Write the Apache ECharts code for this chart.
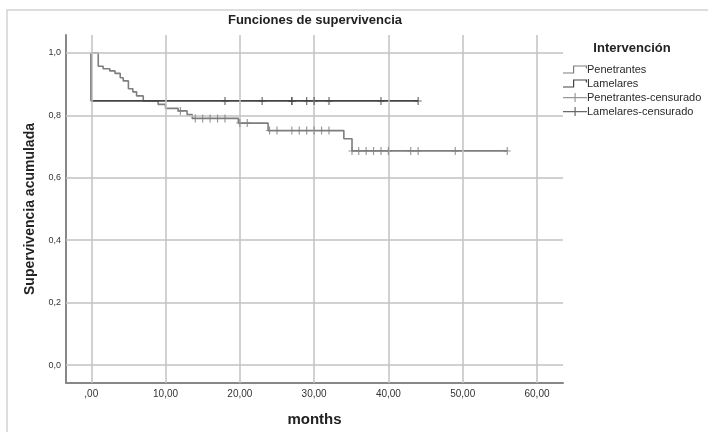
<!DOCTYPE html>
<html>
<head>
<meta charset="utf-8">
<script src="https://cdn.jsdelivr.net/npm/echarts@6/dist/echarts.min.js"></script>
<style>
  html, body { margin: 0; padding: 0; background: #fff; }
  #chart { width: 708px; height: 432px; }
</style>
</head>
<body>
<div id="chart"></div>
<script>
// tiempos de evento y supervivencia
var penTimes = [0, 0.94, 1.6, 2.5, 3.2, 3.9, 4.3, 5.0, 5.6, 6.1, 7.0, 9.0, 10.0, 11.7, 12.9, 13.6, 19.8, 23.8, 34.0, 35.1, 56];
var penSurv  = [1.0, 0.957, 0.949, 0.942, 0.934, 0.920, 0.910, 0.885, 0.875, 0.862, 0.846, 0.835, 0.822, 0.814, 0.802, 0.790, 0.775, 0.751, 0.725, 0.686, 0.686];
var penCensTimes = [12.0, 14, 15, 16, 17, 18, 20, 21, 24, 25, 27, 28, 29, 30, 31, 32, 35.1, 36, 37, 38, 39, 40, 43, 44, 49, 56];
var penCensSurv  = [0.814, 0.790, 0.790, 0.790, 0.790, 0.790, 0.775, 0.775, 0.751, 0.751, 0.751, 0.751, 0.751, 0.751, 0.751, 0.751,
                    0.686, 0.686, 0.686, 0.686, 0.686, 0.686, 0.686, 0.686, 0.686, 0.686];

var lamTimes = [0, 0, 44];
var lamSurv  = [1.0, 0.846, 0.846];
var lamCensTimes = [18, 23, 27, 27, 29, 30, 32, 39, 44];
var lamCensSurv  = [0.846, 0.846, 0.846, 0.846, 0.846, 0.846, 0.846, 0.846, 0.846];

var xTicks = [0, 10, 20, 30, 40, 50, 60];
var yTicks = [0, 0.2, 0.4, 0.6, 0.8, 1.0];

function pairs(xs, ys) {
  var out = [];
  for (var i = 0; i < xs.length; i++) {
    out.push([xs[i], ys[i]]);
  }
  return out;
}

var penColor = '#7e7e7e';
var lamColor = '#444444';
var gridColor = '#c2c2c2';
var axisColor = '#888888';

var plusSymbol = 'path://M3,0 h1.2 v8 h-1.2 z M0,3.5 h7.2 v1 h-7.2 z';
var stepIcon = 'path://M0,8 h11 v1.2 h-11 z M10,1 h1.2 v8 h-1.2 z M10,1 h14 v1.2 h-14 z M22.8,1 h1.2 v3 h-1.2 z';
var censIcon = 'path://M0,4.5 h24 v1.2 h-24 z M11.5,0.5 h1.2 v9 h-1.2 z';

// lineas de cuadricula
var gridLines = [];
for (var i = 0; i < xTicks.length; i++) gridLines.push({ xAxis: xTicks[i] });
for (var j = 0; j < yTicks.length; j++) gridLines.push({ yAxis: yTicks[j] });

var chart = echarts.init(document.getElementById('chart'));

var option = {
  backgroundColor: '#fff',
  animation: false,
  textStyle: { fontFamily: 'Liberation Sans, Arial, sans-serif' },
  grid: { left: 66, right: 145, top: 35, bottom: 45, containLabel: false },
  graphic: [
    {
      type: 'rect', silent: true, z: -10,
      shape: { x: 7, y: 10, width: 720, height: 440 },
      style: { fill: 'none', stroke: '#d2d2d2', lineWidth: 1.5 }
    },
    {
      type: 'text', x: 315, y: 14,
      style: {
        text: 'Funciones de supervivencia', textAlign: 'center',
        font: 'bold 13px "Liberation Sans", Arial, sans-serif', fill: '#222'
      }
    },
    {
      type: 'text', x: 632, y: 42,
      style: {
        text: 'Intervención', textAlign: 'center',
        font: 'bold 13px "Liberation Sans", Arial, sans-serif', fill: '#222'
      }
    }
  ],
  legend: {
    orient: 'vertical',
    left: 563,
    top: 64,
    padding: 0,
    itemWidth: 24,
    itemHeight: 10,
    itemGap: 3,
    selectedMode: false,
    textStyle: { fontSize: 11, color: '#2a2a2a', padding: [0, 0, 0, -5] },
    data: [
      { name: 'Penetrantes', icon: stepIcon },
      { name: 'Lamelares', icon: stepIcon },
      { name: 'Penetrantes-censurado', icon: censIcon },
      { name: 'Lamelares-censurado', icon: censIcon }
    ]
  },
  xAxis: {
    type: 'value',
    min: -3.4,
    max: 63.5,
    name: 'months',
    nameLocation: 'middle',
    nameGap: 29,
    nameTextStyle: { fontSize: 15, fontWeight: 'bold', color: '#222' },
    axisLine: { show: true, onZero: false, lineStyle: { color: axisColor, width: 2 } },
    axisTick: { show: false },
    splitLine: { show: false },
    axisLabel: {
      customValues: xTicks,
      fontSize: 10,
      color: '#333',
      margin: 6,
      formatter: function (v) {
        return v === 0 ? ',00' : v.toFixed(2).replace('.', ',');
      }
    }
  },
  yAxis: {
    type: 'value',
    min: -0.057,
    max: 1.057,
    name: 'Supervivencia acumulada',
    nameLocation: 'middle',
    nameGap: 29,
    nameTextStyle: { fontSize: 14, fontWeight: 'bold', color: '#222' },
    axisLine: { show: true, onZero: false, lineStyle: { color: axisColor, width: 2 } },
    axisTick: { show: false },
    splitLine: { show: false },
    axisLabel: {
      customValues: yTicks,
      fontSize: 9,
      color: '#333',
      margin: 5,
      formatter: function (v) {
        return v.toFixed(1).replace('.', ',');
      }
    }
  },
  series: [
    {
      name: 'cuadricula',
      type: 'line',
      z: 1,
      data: [],
      symbol: 'none',
      silent: true,
      markLine: {
        silent: true,
        symbol: ['none', 'none'],
        label: { show: false },
        lineStyle: { color: gridColor, width: 1.5, type: 'solid' },
        data: gridLines
      }
    },
    {
      name: 'Penetrantes',
      type: 'line',
      step: 'end',
      z: 3,
      symbol: 'none',
      itemStyle: { color: penColor },
      lineStyle: { color: penColor, width: 1.6 },
      data: pairs(penTimes, penSurv)
    },
    {
      name: 'Lamelares',
      type: 'line',
      z: 4,
      symbol: 'none',
      itemStyle: { color: lamColor },
      lineStyle: { color: lamColor, width: 1.8 },
      data: pairs(lamTimes, lamSurv)
    },
    {
      name: 'Penetrantes-censurado',
      type: 'scatter',
      z: 5,
      symbol: plusSymbol,
      symbolSize: [7, 8],
      itemStyle: { color: penColor },
      data: pairs(penCensTimes, penCensSurv)
    },
    {
      name: 'Lamelares-censurado',
      type: 'scatter',
      z: 6,
      symbol: plusSymbol,
      symbolSize: [7, 8],
      itemStyle: { color: lamColor },
      data: pairs(lamCensTimes, lamCensSurv)
    }
  ]
};

chart.setOption(option);
</script>
</body>
</html>
